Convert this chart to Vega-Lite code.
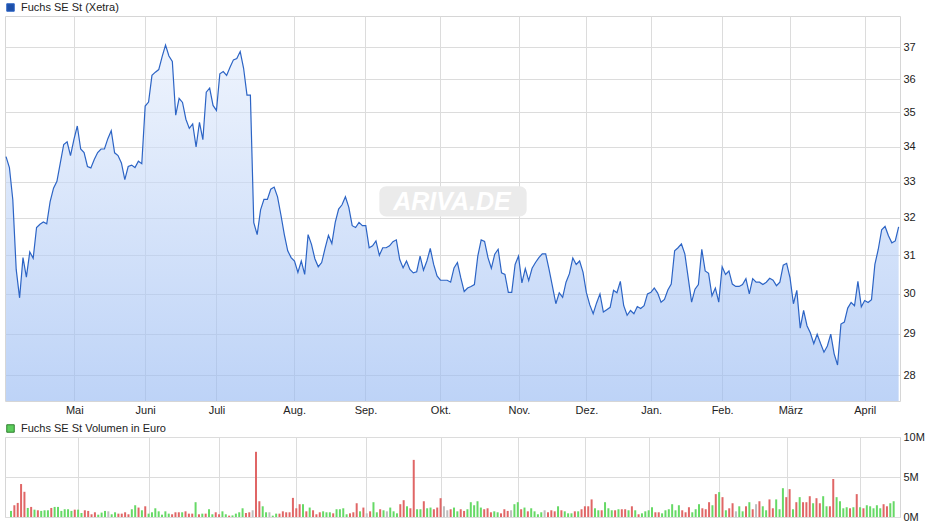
{
  "$schema": "https://vega.github.io/schema/vega-lite/v6.json",
  "background": "white",
  "padding": {"left": 3, "top": 1, "right": 0, "bottom": 0},
  "config": {
    "font": "Liberation Sans",
    "view": {"stroke": "#d6d6d6", "strokeWidth": 1},
    "axis": {"labelFont": "Liberation Sans", "labelFontSize": 11, "labelColor": "#222222", "gridColor": "#dcdcdc", "gridWidth": 1, "ticks": false, "tickSize": 0, "domain": false, "labelFlush": false, "title": null},
    "legend": {"orient": "none", "legendX": 0, "legendY": -14, "padding": 0, "title": null, "symbolType": "square", "symbolSize": 56, "symbolStrokeWidth": 1, "labelFont": "Liberation Sans", "labelFontSize": 11, "labelColor": "#222222", "labelOffset": 5}
  },
  "datasets": {
    "kurs": [
      {"i":0,"p":33.71,"v":0.76,"d":"u"},{"i":1,"p":33.40,"v":1.47,"d":"d"},{"i":2,"p":32.50,"v":1.76,"d":"d"},{"i":3,"p":30.63,"v":4.12,"d":"d"},{"i":4,"p":29.90,"v":3.15,"d":"d"},
      {"i":5,"p":30.94,"v":1.13,"d":"u"},{"i":6,"p":30.43,"v":1.26,"d":"d"},{"i":7,"p":31.09,"v":0.92,"d":"u"},{"i":8,"p":30.92,"v":0.84,"d":"d"},{"i":9,"p":31.74,"v":0.76,"d":"u"},
      {"i":10,"p":31.83,"v":0.84,"d":"u"},{"i":11,"p":31.89,"v":0.84,"d":"u"},{"i":12,"p":31.84,"v":1.13,"d":"d"},{"i":13,"p":32.45,"v":1.26,"d":"u"},{"i":14,"p":32.82,"v":1.26,"d":"u"},
      {"i":15,"p":33.01,"v":0.76,"d":"u"},{"i":16,"p":33.53,"v":0.97,"d":"u"},{"i":17,"p":34.06,"v":0.97,"d":"u"},{"i":18,"p":34.14,"v":0.76,"d":"u"},{"i":19,"p":33.74,"v":0.92,"d":"d"},
      {"i":20,"p":34.20,"v":0.92,"d":"u"},{"i":21,"p":34.60,"v":0.50,"d":"u"},{"i":22,"p":33.93,"v":0.84,"d":"d"},{"i":23,"p":33.83,"v":0.76,"d":"d"},{"i":24,"p":33.43,"v":0.34,"d":"d"},
      {"i":25,"p":33.39,"v":0.59,"d":"d"},{"i":26,"p":33.63,"v":0.29,"d":"u"},{"i":27,"p":33.83,"v":0.55,"d":"u"},{"i":28,"p":33.93,"v":0.76,"d":"u"},{"i":29,"p":33.93,"v":0.71,"d":"f"},
      {"i":30,"p":34.23,"v":0.34,"d":"u"},{"i":31,"p":34.46,"v":0.59,"d":"u"},{"i":32,"p":33.82,"v":0.42,"d":"d"},{"i":33,"p":33.74,"v":0.42,"d":"d"},{"i":34,"p":33.53,"v":0.59,"d":"d"},
      {"i":35,"p":33.06,"v":0.34,"d":"d"},{"i":36,"p":33.43,"v":0.97,"d":"u"},{"i":37,"p":33.47,"v":1.47,"d":"u"},{"i":38,"p":33.40,"v":1.18,"d":"d"},{"i":39,"p":33.58,"v":0.84,"d":"u"},
      {"i":40,"p":33.51,"v":1.34,"d":"d"},{"i":41,"p":35.19,"v":0.42,"d":"u"},{"i":42,"p":35.31,"v":0.59,"d":"u"},{"i":43,"p":36.12,"v":1.09,"d":"u"},{"i":44,"p":36.22,"v":0.71,"d":"u"},
      {"i":45,"p":36.30,"v":0.29,"d":"u"},{"i":46,"p":36.70,"v":0.71,"d":"u"},{"i":47,"p":37.06,"v":0.42,"d":"u"},{"i":48,"p":36.72,"v":0.34,"d":"d"},{"i":49,"p":36.55,"v":0.59,"d":"d"},
      {"i":50,"p":34.92,"v":0.59,"d":"d"},{"i":51,"p":35.42,"v":0.59,"d":"u"},{"i":52,"p":35.30,"v":0.71,"d":"d"},{"i":53,"p":34.80,"v":0.42,"d":"d"},{"i":54,"p":34.53,"v":0.42,"d":"d"},
      {"i":55,"p":34.66,"v":1.85,"d":"u"},{"i":56,"p":33.99,"v":0.34,"d":"d"},{"i":57,"p":34.71,"v":0.42,"d":"u"},{"i":58,"p":34.20,"v":0.42,"d":"d"},{"i":59,"p":35.61,"v":0.97,"d":"u"},
      {"i":60,"p":35.73,"v":0.34,"d":"u"},{"i":61,"p":35.21,"v":0.59,"d":"d"},{"i":62,"p":35.06,"v":0.34,"d":"d"},{"i":63,"p":36.17,"v":0.71,"d":"u"},{"i":64,"p":36.24,"v":0.34,"d":"u"},
      {"i":65,"p":36.12,"v":0.17,"d":"d"},{"i":66,"p":36.37,"v":0.20,"d":"u"},{"i":67,"p":36.60,"v":0.42,"d":"u"},{"i":68,"p":36.64,"v":0.59,"d":"u"},{"i":69,"p":36.86,"v":1.09,"d":"u"},
      {"i":70,"p":36.34,"v":0.50,"d":"d"},{"i":71,"p":35.52,"v":0.59,"d":"d"},{"i":72,"p":35.52,"v":0.84,"d":"f"},{"i":73,"p":31.87,"v":8.15,"d":"d"},{"i":74,"p":31.55,"v":1.97,"d":"d"},
      {"i":75,"p":32.22,"v":1.34,"d":"u"},{"i":76,"p":32.51,"v":0.59,"d":"u"},{"i":77,"p":32.51,"v":0.59,"d":"f"},{"i":78,"p":32.79,"v":0.17,"d":"u"},{"i":79,"p":32.85,"v":0.42,"d":"u"},
      {"i":80,"p":32.58,"v":0.42,"d":"d"},{"i":81,"p":32.08,"v":0.71,"d":"d"},{"i":82,"p":31.55,"v":0.59,"d":"d"},{"i":83,"p":31.12,"v":0.59,"d":"d"},{"i":84,"p":30.94,"v":2.39,"d":"d"},
      {"i":85,"p":30.85,"v":1.09,"d":"d"},{"i":86,"p":30.55,"v":1.60,"d":"d"},{"i":87,"p":30.85,"v":1.60,"d":"u"},{"i":88,"p":30.50,"v":0.71,"d":"d"},{"i":89,"p":31.55,"v":1.18,"d":"u"},
      {"i":90,"p":31.29,"v":0.84,"d":"d"},{"i":91,"p":30.91,"v":0.34,"d":"d"},{"i":92,"p":30.70,"v":0.59,"d":"d"},{"i":93,"p":30.81,"v":0.71,"d":"u"},{"i":94,"p":31.18,"v":0.59,"d":"u"},
      {"i":95,"p":31.53,"v":0.59,"d":"u"},{"i":96,"p":31.31,"v":0.46,"d":"d"},{"i":97,"p":31.88,"v":0.97,"d":"u"},{"i":98,"p":32.24,"v":0.97,"d":"u"},{"i":99,"p":32.36,"v":1.09,"d":"u"},
      {"i":100,"p":32.58,"v":0.34,"d":"u"},{"i":101,"p":32.29,"v":0.46,"d":"d"},{"i":102,"p":31.79,"v":0.59,"d":"d"},{"i":103,"p":31.74,"v":1.72,"d":"d"},{"i":104,"p":31.88,"v":0.71,"d":"u"},
      {"i":105,"p":31.79,"v":1.18,"d":"d"},{"i":106,"p":31.79,"v":0.46,"d":"f"},{"i":107,"p":31.20,"v":0.71,"d":"d"},{"i":108,"p":31.25,"v":1.85,"d":"u"},{"i":109,"p":31.38,"v":0.59,"d":"u"},
      {"i":110,"p":31.00,"v":0.97,"d":"d"},{"i":111,"p":31.20,"v":0.84,"d":"u"},{"i":112,"p":31.20,"v":0.71,"d":"f"},{"i":113,"p":31.25,"v":1.18,"d":"u"},{"i":114,"p":31.36,"v":0.71,"d":"u"},
      {"i":115,"p":31.41,"v":0.46,"d":"u"},{"i":116,"p":30.89,"v":1.60,"d":"d"},{"i":117,"p":30.67,"v":2.10,"d":"d"},{"i":118,"p":30.85,"v":1.34,"d":"u"},{"i":119,"p":30.63,"v":1.09,"d":"d"},
      {"i":120,"p":30.54,"v":7.14,"d":"d"},{"i":121,"p":30.57,"v":0.97,"d":"u"},{"i":122,"p":30.98,"v":0.97,"d":"u"},{"i":123,"p":30.61,"v":1.97,"d":"d"},{"i":124,"p":30.85,"v":1.09,"d":"u"},
      {"i":125,"p":31.18,"v":1.18,"d":"u"},{"i":126,"p":30.76,"v":0.97,"d":"d"},{"i":127,"p":30.46,"v":1.18,"d":"d"},{"i":128,"p":30.35,"v":2.35,"d":"d"},{"i":129,"p":30.35,"v":1.34,"d":"f"},
      {"i":130,"p":30.35,"v":0.84,"d":"f"},{"i":131,"p":30.30,"v":0.97,"d":"d"},{"i":132,"p":30.67,"v":1.18,"d":"u"},{"i":133,"p":30.81,"v":0.71,"d":"u"},{"i":134,"p":30.41,"v":0.97,"d":"d"},
      {"i":135,"p":30.06,"v":0.76,"d":"d"},{"i":136,"p":30.15,"v":0.97,"d":"u"},{"i":137,"p":30.19,"v":1.85,"d":"u"},{"i":138,"p":30.24,"v":1.47,"d":"u"},{"i":139,"p":30.98,"v":1.97,"d":"u"},
      {"i":140,"p":31.41,"v":1.18,"d":"u"},{"i":141,"p":31.37,"v":0.97,"d":"d"},{"i":142,"p":30.94,"v":1.09,"d":"d"},{"i":143,"p":30.66,"v":0.59,"d":"d"},{"i":144,"p":31.03,"v":0.71,"d":"u"},
      {"i":145,"p":31.16,"v":0.59,"d":"u"},{"i":146,"p":30.54,"v":0.46,"d":"d"},{"i":147,"p":30.50,"v":0.97,"d":"d"},{"i":148,"p":30.04,"v":0.76,"d":"d"},{"i":149,"p":30.04,"v":0.84,"d":"f"},
      {"i":150,"p":30.76,"v":1.60,"d":"u"},{"i":151,"p":30.98,"v":1.85,"d":"u"},{"i":152,"p":30.28,"v":0.97,"d":"d"},{"i":153,"p":30.65,"v":1.18,"d":"u"},{"i":154,"p":30.34,"v":0.71,"d":"d"},
      {"i":155,"p":30.66,"v":1.09,"d":"u"},{"i":156,"p":30.81,"v":0.71,"d":"u"},{"i":157,"p":30.94,"v":0.34,"d":"u"},{"i":158,"p":31.04,"v":0.59,"d":"u"},{"i":159,"p":31.04,"v":0.84,"d":"f"},
      {"i":160,"p":30.63,"v":0.59,"d":"d"},{"i":161,"p":30.19,"v":0.84,"d":"d"},{"i":162,"p":29.75,"v":0.71,"d":"d"},{"i":163,"p":30.03,"v":1.34,"d":"u"},{"i":164,"p":29.91,"v":0.84,"d":"d"},
      {"i":165,"p":30.30,"v":0.71,"d":"u"},{"i":166,"p":30.52,"v":0.46,"d":"u"},{"i":167,"p":30.93,"v":0.46,"d":"u"},{"i":168,"p":30.76,"v":0.71,"d":"d"},{"i":169,"p":30.85,"v":0.71,"d":"u"},
      {"i":170,"p":30.56,"v":0.97,"d":"d"},{"i":171,"p":30.03,"v":1.34,"d":"d"},{"i":172,"p":29.72,"v":1.34,"d":"d"},{"i":173,"p":29.50,"v":2.20,"d":"d"},{"i":174,"p":29.77,"v":1.09,"d":"u"},
      {"i":175,"p":30.00,"v":0.84,"d":"u"},{"i":176,"p":29.54,"v":0.84,"d":"d"},{"i":177,"p":29.60,"v":1.85,"d":"u"},{"i":178,"p":29.66,"v":1.09,"d":"u"},{"i":179,"p":30.09,"v":0.84,"d":"u"},
      {"i":180,"p":30.03,"v":0.84,"d":"d"},{"i":181,"p":30.32,"v":0.97,"d":"u"},{"i":182,"p":29.70,"v":0.97,"d":"d"},{"i":183,"p":29.46,"v":0.97,"d":"d"},{"i":184,"p":29.58,"v":0.84,"d":"u"},
      {"i":185,"p":29.50,"v":1.34,"d":"d"},{"i":186,"p":29.68,"v":0.84,"d":"u"},{"i":187,"p":29.63,"v":0.34,"d":"d"},{"i":188,"p":29.70,"v":0.46,"d":"u"},{"i":189,"p":30.00,"v":0.71,"d":"u"},
      {"i":190,"p":30.04,"v":0.84,"d":"u"},{"i":191,"p":30.15,"v":1.22,"d":"u"},{"i":192,"p":30.02,"v":0.59,"d":"d"},{"i":193,"p":29.79,"v":0.59,"d":"d"},{"i":194,"p":29.86,"v":0.46,"d":"u"},
      {"i":195,"p":30.10,"v":0.84,"d":"u"},{"i":196,"p":30.25,"v":0.97,"d":"u"},{"i":197,"p":31.12,"v":1.60,"d":"u"},{"i":198,"p":31.20,"v":0.84,"d":"u"},{"i":199,"p":31.30,"v":1.47,"d":"u"},
      {"i":200,"p":31.04,"v":0.84,"d":"d"},{"i":201,"p":30.41,"v":0.59,"d":"d"},{"i":202,"p":29.79,"v":1.22,"d":"d"},{"i":203,"p":30.12,"v":0.59,"d":"u"},{"i":204,"p":30.24,"v":0.97,"d":"u"},
      {"i":205,"p":31.16,"v":1.60,"d":"u"},{"i":206,"p":30.59,"v":1.09,"d":"d"},{"i":207,"p":30.53,"v":0.97,"d":"d"},{"i":208,"p":29.95,"v":1.85,"d":"d"},{"i":209,"p":30.15,"v":1.47,"d":"u"},
      {"i":210,"p":29.79,"v":2.86,"d":"d"},{"i":211,"p":30.70,"v":3.11,"d":"u"},{"i":212,"p":30.50,"v":2.48,"d":"d"},{"i":213,"p":30.59,"v":0.84,"d":"u"},{"i":214,"p":30.25,"v":1.09,"d":"d"},
      {"i":215,"p":30.19,"v":1.72,"d":"d"},{"i":216,"p":30.19,"v":0.71,"d":"f"},{"i":217,"p":30.24,"v":1.34,"d":"u"},{"i":218,"p":30.39,"v":0.71,"d":"u"},{"i":219,"p":30.00,"v":1.34,"d":"d"},
      {"i":220,"p":30.39,"v":1.85,"d":"u"},{"i":221,"p":30.30,"v":0.97,"d":"d"},{"i":222,"p":30.30,"v":1.60,"d":"f"},{"i":223,"p":30.24,"v":1.97,"d":"d"},{"i":224,"p":30.30,"v":1.34,"d":"u"},
      {"i":225,"p":30.40,"v":0.84,"d":"u"},{"i":226,"p":30.35,"v":2.20,"d":"d"},{"i":227,"p":30.21,"v":1.09,"d":"d"},{"i":228,"p":30.30,"v":2.20,"d":"u"},{"i":229,"p":30.74,"v":0.97,"d":"u"},
      {"i":230,"p":30.79,"v":3.60,"d":"u"},{"i":231,"p":30.41,"v":2.48,"d":"d"},{"i":232,"p":29.75,"v":3.48,"d":"d"},{"i":233,"p":30.09,"v":0.97,"d":"u"},{"i":234,"p":29.14,"v":1.85,"d":"d"},
      {"i":235,"p":29.58,"v":2.48,"d":"u"},{"i":236,"p":29.20,"v":1.85,"d":"d"},{"i":237,"p":29.02,"v":1.85,"d":"d"},{"i":238,"p":28.76,"v":2.60,"d":"d"},{"i":239,"p":28.99,"v":1.72,"d":"u"},
      {"i":240,"p":28.76,"v":2.35,"d":"d"},{"i":241,"p":28.55,"v":1.72,"d":"d"},{"i":242,"p":28.70,"v":2.60,"d":"u"},{"i":243,"p":28.99,"v":1.34,"d":"u"},{"i":244,"p":28.51,"v":1.34,"d":"d"},
      {"i":245,"p":28.24,"v":4.75,"d":"d"},{"i":246,"p":29.24,"v":2.48,"d":"u"},{"i":247,"p":29.29,"v":1.97,"d":"u"},{"i":248,"p":29.64,"v":1.09,"d":"u"},{"i":249,"p":29.78,"v":1.22,"d":"u"},
      {"i":250,"p":29.70,"v":1.09,"d":"d"},{"i":251,"p":30.32,"v":1.22,"d":"u"},{"i":252,"p":29.67,"v":2.86,"d":"d"},{"i":253,"p":29.83,"v":1.22,"d":"u"},{"i":254,"p":29.78,"v":1.09,"d":"d"},
      {"i":255,"p":29.85,"v":1.47,"d":"u"},{"i":256,"p":30.76,"v":1.34,"d":"u"},{"i":257,"p":31.16,"v":1.09,"d":"u"},{"i":258,"p":31.68,"v":1.47,"d":"u"},{"i":259,"p":31.77,"v":1.09,"d":"u"},
      {"i":260,"p":31.52,"v":1.60,"d":"d"},{"i":261,"p":31.33,"v":1.34,"d":"d"},{"i":262,"p":31.38,"v":1.72,"d":"u"},{"i":263,"p":31.76,"v":1.97,"d":"u"}
    ]
  },
  "bounds": "flush",
  "spacing": 36,
  "resolve": {"scale": {"stroke": "independent", "x": "independent", "y": "independent"}, "legend": {"stroke": "independent"}},
  "vconcat": [
    {
      "width": 895,
      "height": 385,
      "layer": [
        {
          "data": {"name": "kurs"},
          "mark": {"type": "area", "fillOpacity": 0.62, "color": {"gradient": "linear", "x1": 0, "y1": 0, "x2": 0, "y2": 1, "stops": [{"offset": 0, "color": "#e4edfc"}, {"offset": 1, "color": "#95b8f2"}]}},
          "encoding": {
            "x": {"field": "i", "type": "quantitative", "scale": {"domain": [-0.3, 263.4], "nice": false, "zero": false},
              "axis": {"values": [20.1, 41.0, 62.0, 84.9, 105.9, 128.0, 151.1, 171.0, 190.1, 211.0, 231.1, 253.0], "labelPadding": 3, "grid": true,
                "labelExpr": "datum.value < 30 ? 'Mai' : datum.value < 50 ? 'Juni' : datum.value < 70 ? 'Juli' : datum.value < 95 ? 'Aug.' : datum.value < 115 ? 'Sep.' : datum.value < 140 ? 'Okt.' : datum.value < 160 ? 'Nov.' : datum.value < 180 ? 'Dez.' : datum.value < 200 ? 'Jan.' : datum.value < 220 ? 'Feb.' : datum.value < 240 ? 'März' : 'April'"}},
            "y": {"field": "p", "type": "quantitative", "scale": {"type": "log", "domain": [27.39, 37.99], "nice": false, "zero": false},
              "axis": {"orient": "right", "values": [28, 29, 30, 31, 32, 33, 34, 35, 36, 37], "labelPadding": 3, "grid": true, "format": "d"}},
            "y2": {"datum": 27.39}
          }
        },
        {
          "data": {"values": [{"t": "ARIVA.DE"}]},
          "mark": {"type": "rect", "color": "#ebebeb", "cornerRadius": 7},
          "encoding": {"x": {"datum": 110.0, "type": "quantitative"}, "x2": {"datum": 153.4}, "y": {"datum": 32.87, "type": "quantitative"}, "y2": {"datum": 32.04}}
        },
        {
          "data": {"values": [{"t": "ARIVA.DE"}]},
          "mark": {"type": "text", "color": "#ffffff", "font": "Liberation Sans", "fontSize": 25, "fontStyle": "italic", "fontWeight": "bold", "align": "center", "baseline": "middle"},
          "encoding": {"x": {"datum": 131.4, "type": "quantitative"}, "y": {"datum": 32.43, "type": "quantitative"}, "text": {"field": "t"}}
        },
        {
          "data": {"name": "kurs"},
          "mark": {"type": "line", "strokeWidth": 1.2, "interpolate": "linear"},
          "encoding": {
            "x": {"field": "i", "type": "quantitative"},
            "y": {"field": "p", "type": "quantitative"},
            "stroke": {"datum": "Fuchs SE St (Xetra)", "type": "nominal", "scale": {"range": ["#2c64c5"]},
              "legend": {"symbolFillColor": "#1d4fa8", "symbolStrokeColor": "#10306e"}}
          }
        }
      ]
    },
    {
      "width": 895,
      "height": 80,
      "data": {"name": "kurs"},
      "mark": {"type": "bar", "width": 2, "strokeWidth": 0},
      "encoding": {
        "x": {"field": "i", "type": "quantitative", "scale": {"domain": [-0.3, 263.4], "nice": false, "zero": false},
          "axis": {"values": [20.1, 41.0, 62.0, 84.9, 105.9, 128.0, 151.1, 171.0, 190.1, 211.0, 231.1, 253.0], "labels": false, "grid": true}},
        "y": {"field": "v", "type": "quantitative", "scale": {"domain": [0, 10], "nice": false},
          "axis": {"orient": "right", "values": [0, 5, 10], "labelPadding": 3, "grid": true, "labelExpr": "datum.value + 'M'"}},
        "color": {"field": "d", "type": "nominal", "scale": {"domain": ["u", "d", "f"], "range": ["#66d966", "#e06666", "#bdbdbd"]}, "legend": null},
        "stroke": {"datum": "Fuchs SE St Volumen in Euro", "type": "nominal", "scale": {"range": ["#2f7f2f"]},
          "legend": {"symbolFillColor": "#5ccd5c", "symbolStrokeColor": "#2f7f2f"}}
      }
    }
  ]
}
